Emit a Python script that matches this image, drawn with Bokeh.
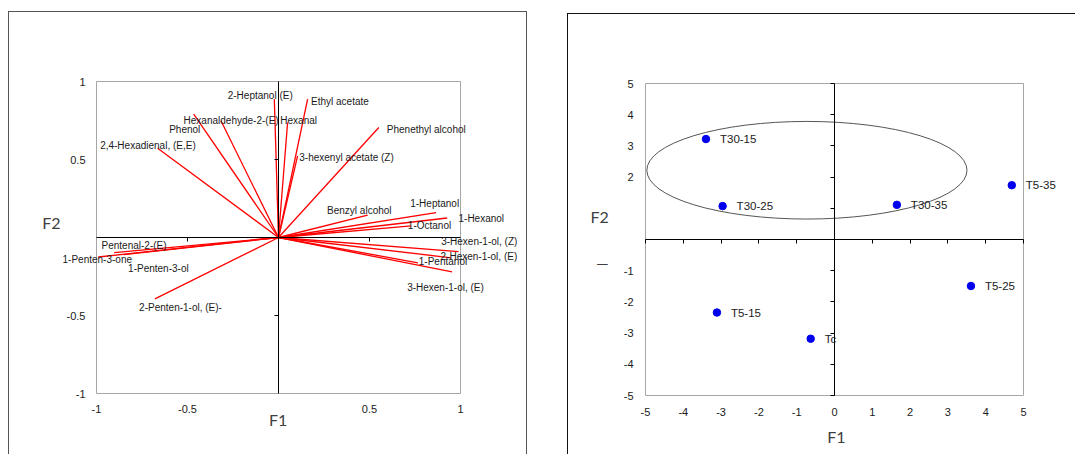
from bokeh.plotting import figure
from bokeh.layouts import row
from bokeh.models import (ColumnDataSource, FixedTicker, LinearAxis, Range1d,
                          LabelSet)
from bokeh.core.properties import value
from bokeh.embed import file_html
from bokeh.resources import INLINE

# ---- variable loadings (correlation circle) ----
variables = [
    "2-Heptanol (E)", "Ethyl acetate", "Hexanaldehyde-2-(E)", "Hexanal",
    "Phenol", "2,4-Hexadienal, (E,E)", "Phenethyl alcohol",
    "3-hexenyl acetate (Z)", "Benzyl alcohol", "1-Heptanol", "1-Hexanol",
    "1-Octanol", "3-Hexen-1-ol, (Z)", "2-Hexen-1-ol, (E)", "1-Pentanol",
    "3-Hexen-1-ol, (E)", "Pentenal-2-(E)", "1-Penten-3-one",
    "1-Penten-3-ol", "2-Penten-1-ol, (E)-",
]
f1_loadings = [-0.023, 0.160, -0.316, 0.050, -0.466, -0.664, 0.551, 0.105,
               0.490, 0.866, 0.927, 0.730, 0.989, 0.949, 0.766, 0.954,
               -0.903, -0.990, -0.850, -0.679]
f2_loadings = [0.887, 0.887, 0.748, 0.737, 0.791, 0.572, 0.705, 0.523,
               0.144, 0.159, 0.125, 0.075, -0.091, -0.130, -0.162, -0.221,
               -0.097, -0.125, -0.110, -0.393]

# label placement relative to each vector tip (screen pixels, y down)
label_dx = [-46.6, 3.4, -37.4, -7.3, -24.5, -57.5, 8.0, 1.7, -40.6, -25.9,
            11.3, -3.5, -17.3, -10.7, 0.9, -45.0, -12.6, -35.8, 4.3, -15.8]
label_dy = [-4.0, 2.7, 0.0, -1.7, 15.7, -2.4, 2.0, 1.7, -4.8, -9.0,
            0.7, -0.5, -9.7, -0.8, -1.0, 15.8, -7.6, 2.3, 13.7, 9.0]

# ---- observation scores ----
treatments = ["T30-15", "T30-25", "T30-35", "T5-35", "T5-25", "T5-15", "Tc"]
f1_scores = [-3.40, -2.96, 1.65, 4.69, 3.61, -3.11, -0.63]
f2_scores = [3.22, 1.07, 1.11, 1.74, -1.49, -2.34, -3.18]

# grouping ellipse around the T30 treatments
group_x, group_y = -0.73, 2.22
group_w, group_h = 8.47, 3.13

TICK_FONT = "Liberation Sans"
TITLE_FONT = "Lato"
BOX_GREY = "#a6a6a6"
NBSP = "\u00a0"


def label_style(ax, size="11px"):
    ax.axis_line_color = None
    ax.major_tick_line_color = None
    ax.minor_tick_line_color = None
    ax.major_tick_in = 0
    ax.major_tick_out = 0
    ax.major_label_text_font = TICK_FONT
    ax.major_label_text_font_size = size
    ax.major_label_text_color = "#1a1a1a"
    ax.axis_label_text_font = TITLE_FONT
    ax.axis_label_text_font_size = "16px"
    ax.axis_label_text_font_style = "normal"
    ax.axis_label_text_color = "#404040"


def make_panel(lim, xr, yr, xticks, yticks, cross_xticks, cross_yticks,
               fw, fh, top, bottom, margin, frame_css,
               x_std, y_std, xlabel, xlab_std, ylabel, ylab_std, ylab_lh):
    p = figure(x_range=Range1d(*xr), y_range=Range1d(*yr),
               frame_width=fw, frame_height=fh,
               min_border_left=0, min_border_right=0,
               min_border_top=top, min_border_bottom=bottom,
               y_axis_location=None,
               output_backend="svg", toolbar_location=None,
               background_fill_color="white", border_fill_color="white",
               margin=margin, styles={"outline": frame_css})
    p.grid.visible = False
    p.outline_line_color = None

    # plot box spanning the axis limits
    p.rect(x=0, y=0, width=2 * lim, height=2 * lim, fill_color=None,
           line_color=BOX_GREY, line_width=1)

    # tick labels along the bottom of the box
    xa = p.xaxis[0]
    xa.bounds = (-lim, lim)
    xa.ticker = FixedTicker(ticks=xticks)
    xa.major_label_overrides = {t: f"{t:g}" for t in xticks}
    xa.major_label_standoff = x_std
    xa.axis_label = xlabel
    xa.axis_label_standoff = xlab_std
    label_style(xa)

    # tick labels along the left side of the box
    ya = LinearAxis(fixed_location=-lim, bounds=(-lim, lim),
                    ticker=FixedTicker(ticks=yticks),
                    major_label_overrides={t: f"{t:g}" for t in yticks},
                    major_label_standoff=y_std, axis_label=ylabel,
                    axis_label_orientation="horizontal",
                    axis_label_standoff=ylab_std)
    label_style(ya)
    ya.axis_label_text_line_height = ylab_lh
    p.add_layout(ya, "left")

    # axes crossing at the origin
    for ticks, side in ((cross_xticks, "below"), (cross_yticks, "left")):
        ax = LinearAxis(fixed_location=0, bounds=(-lim, lim),
                        ticker=FixedTicker(ticks=ticks),
                        major_label_overrides={t: "" for t in ticks},
                        major_tick_in=0, major_tick_out=4,
                        major_label_text_font_size="1px",
                        minor_tick_line_color=None,
                        axis_line_color="black",
                        major_tick_line_color="black")
        p.add_layout(ax, side)
    return p


# ================= left panel: loadings =================
px1, py1 = 182.0, 156.0   # pixels per unit
p1 = make_panel(1, (-1 - 87 / px1, -1 - 87 / px1 + 517 / px1),
                (-1 - 10 / py1, 1 + 10 / py1),
                [-1, -0.5, 0.5, 1], [-1, -0.5, 0.5, 1],
                [-0.5, 0.5], [-0.5, 0.5],
                517, 332, 59, 51, (12, 0, 0, 9), "1px solid #555555",
                1, 11, NBSP * 5 + "F1", -6, "F2\n", 3, 1.6)

vec = ColumnDataSource(dict(x0=[0] * len(variables), y0=[0] * len(variables),
                            x1=f1_loadings, y1=f2_loadings, name=variables,
                            dx=label_dx, dy=[-d for d in label_dy]))
p1.segment(x0="x0", y0="y0", x1="x1", y1="y1", source=vec,
           line_color="#ff0000", line_width=1.3)
p1.add_layout(LabelSet(x="x1", y="y1", text="name", x_offset="dx",
                       y_offset="dy", source=vec, text_font=value(TICK_FONT),
                       text_font_size="10px", text_color="#1a1a1a",
                       text_align="left", text_baseline="middle"))

# ================= right panel: scores =================
px2, py2 = 37.8, 31.2
p2 = make_panel(5, (-5 - 77 / px2, -5 - 77 / px2 + 507 / px2),
                (-5 - 10 / py2, 5 + 10 / py2),
                list(range(-5, 6)), [-5, -4, -3, -2, -1, 2, 3, 4, 5],
                list(range(-5, 6)), [-5, -4, -3, -2, -1, 1, 2, 3, 4, 5],
                507, 332, 58, 50, (14, 0, 0, 42), "1px solid #111111",
                2, 12, NBSP * 7 + "F1", 8, "F2\n\n\u2014", 12, 1.2)

p2.ellipse(x=group_x, y=group_y, width=group_w, height=group_h,
           fill_color=None, line_color="#555555", line_width=1)

pts = ColumnDataSource(dict(x=f1_scores, y=f2_scores, name=treatments))
p2.scatter(x="x", y="y", source=pts, size=7.5, marker="circle",
           fill_color="#0000ee", line_color="#0000ee")
p2.add_layout(LabelSet(x="x", y="y", text="name", x_offset=14, source=pts,
                       text_font=value(TICK_FONT), text_font_size="11.5px",
                       text_color="#1a1a1a", text_align="left",
                       text_baseline="middle"))

layout = row(p1, p2)
open("out.html", "w").write(file_html(layout, INLINE))
